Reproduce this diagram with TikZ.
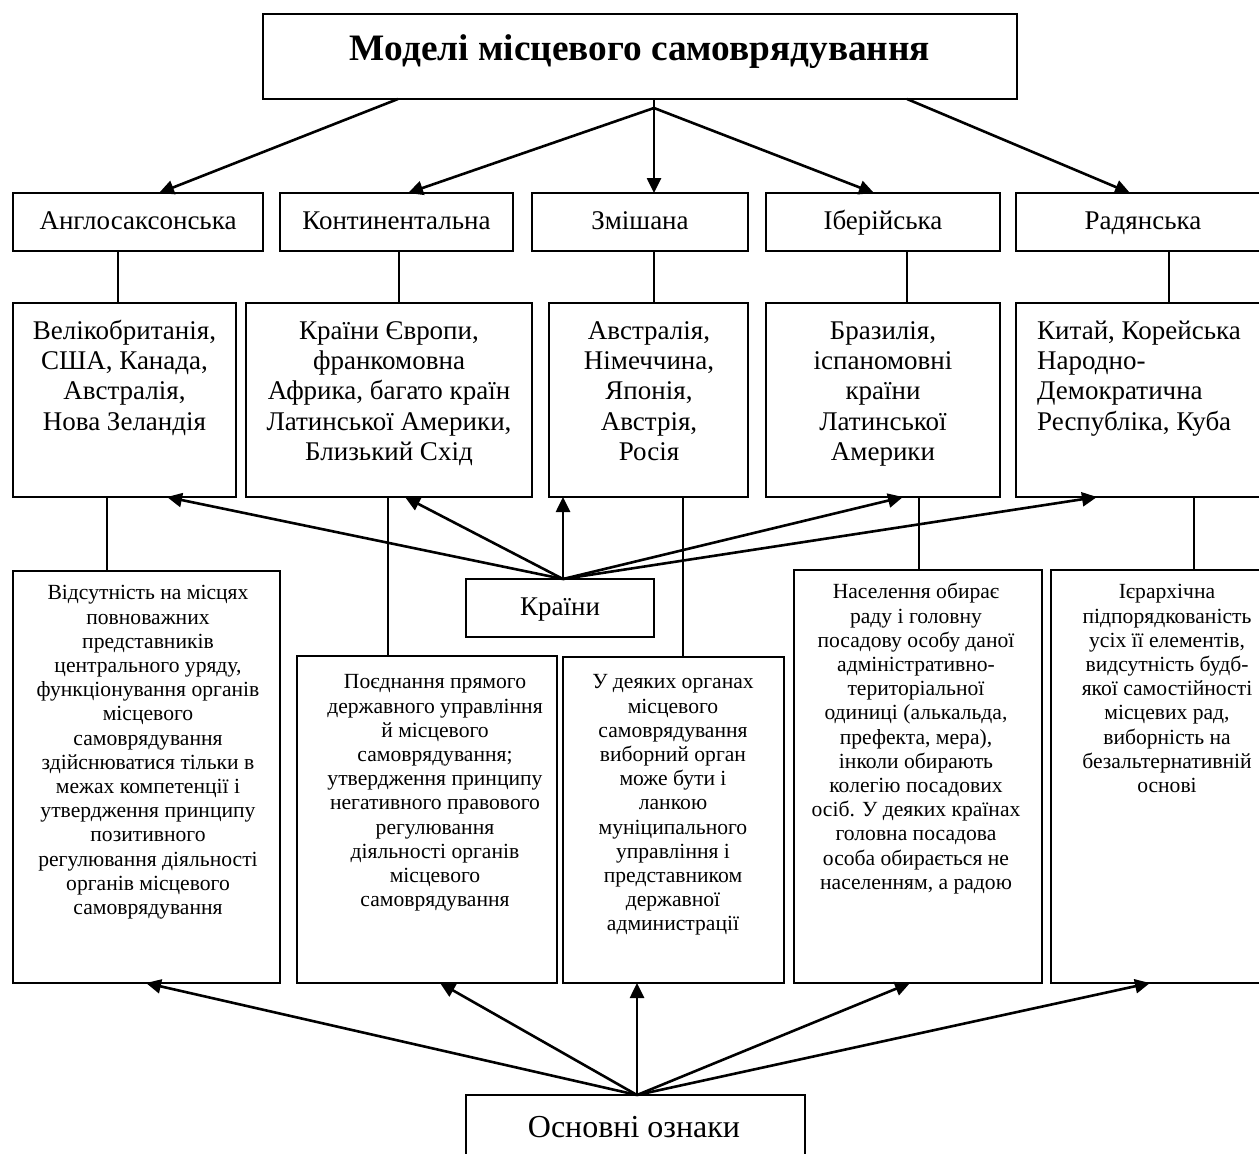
\documentclass[tikz,border=0pt]{standalone}
\usepackage{fontspec}
\setmainfont{Liberation Serif}
\usetikzlibrary{arrows.meta}
\newcommand\mybox[5]{\node[bx, minimum width={#4-#2}, minimum height={#5-#3}] (#1) at ({(#2+#4)/2},{(#3+#5)/2}) {};}
\begin{document}
\begin{tikzpicture}[x=1pt,y=-1pt,
  bx/.style={draw, line width=1.8pt, inner sep=0pt, outer sep=0pt},
  arr/.style={line width=2.6pt, -{Triangle[length=15pt,width=14pt]}},
  thinln/.style={line width=1.6pt},
  bigtxt/.style={font=\fontsize{27}{30.3}\selectfont, inner sep=0pt},
  cty/.style={font=\fontsize{27}{30.3}\selectfont, align=center, inner sep=0pt, anchor=north},
  feat/.style={font=\fontsize{21.6}{24.2}\selectfont, align=center, inner sep=0pt, anchor=north},
]
\useasboundingbox (0,0) rectangle (1259,1154);
\clip (0,0) rectangle (1259,1154);

% boxes
\mybox{title}{263}{14}{1017}{99}
\mybox{anglo}{13}{193}{263}{251}
\mybox{cont}{280}{193}{513}{251}
\mybox{zmish}{532}{193}{748}{251}
\mybox{iber}{766}{193}{1000}{251}
\mybox{rad}{1016}{193}{1280}{251}
\mybox{vel}{13}{303}{236}{497}
\mybox{kre}{246}{303}{532}{497}
\mybox{avs}{549}{303}{748}{497}
\mybox{bra}{766}{303}{1000}{497}
\mybox{chi}{1016}{303}{1280}{497}
\mybox{krainy}{466}{579}{654}{637}
\mybox{fA}{13}{571}{280}{983}
\mybox{fB}{297}{656}{557}{983}
\mybox{fC}{563}{657}{784}{983}
\mybox{fD}{794}{570}{1042}{983}
\mybox{fE}{1051}{570}{1280}{983}
\mybox{osn}{466}{1095}{805}{1180}

% texts
\node[inner sep=0pt, anchor=base, font=\fontsize{37.3}{42}\selectfont\bfseries] (titleT) at (640,60) {Моделі місцевого самоврядування};
\node[bigtxt, anchor=base] (angloT) at (138,229) {Англосаксонська};
\node[bigtxt, anchor=base] (contT) at (396.5,229) {Континентальна};
\node[bigtxt, anchor=base] (zmishT) at (640,229) {Змішана};
\node[bigtxt, anchor=base] (iberT) at (883,229) {Іберійська};
\node[bigtxt, anchor=base] (radT) at (1143,229) {Радянська};

\node[cty] (velT) at (124.5,312) {\rule{0pt}{1em}Велікобританія,\\ США, Канада,\\ Австралія,\\ Нова Зеландія};
\node[cty] (kreT) at (389,312) {\rule{0pt}{1em}Країни Європи,\\ франкомовна\\ Африка, багато країн\\ Латинської Америки,\\ Близький Схід};
\node[cty] (avsT) at (649,312) {\rule{0pt}{1em}Австралія,\\ Німеччина,\\ Японія,\\ Австрія,\\ Росія};
\node[cty] (braT) at (883,312) {\rule{0pt}{1em}Бразилія,\\ іспаномовні\\ країни\\ Латинської\\ Америки};
\node[cty, align=left, anchor=north west] (chiT) at (1037,312) {\rule{0pt}{1em}Китай, Корейська\\ Народно-\\ Демократична\\ Республіка, Куба};

\node[bigtxt, anchor=base] (krainyT) at (560,615) {Країни};
\node[inner sep=0pt, anchor=base, font=\fontsize{32}{36}\selectfont] (osnT) at (634,1137) {Основні ознаки};

\node[feat] (fAT) at (148,578) {\rule{0pt}{1em}Відсутність на місцях\\ повноважних\\ представників\\ центрального уряду,\\ функціонування органів\\ місцевого\\ самоврядування\\ здійснюватися тільки в\\ межах компетенції і\\ утвердження принципу\\ позитивного\\ регулювання діяльності\\ органів місцевого\\ самоврядування};
\node[feat] (fBT) at (435,667) {\rule{0pt}{1em}Поєднання прямого\\ державного управління\\ й місцевого\\ самоврядування;\\ утвердження принципу\\ негативного правового\\ регулювання\\ діяльності органів\\ місцевого\\ самоврядування};
\node[feat] (fCT) at (673,667) {\rule{0pt}{1em}У деяких органах\\ місцевого\\ самоврядування\\ виборний орган\\ може бути і\\ ланкою\\ муніципального\\ управління і\\ представником\\ державної\\ администрації};
\node[feat] (fDT) at (916,577) {\rule{0pt}{1em}Населення обирає\\ раду і головну\\ посадову особу даної\\ адміністративно-\\ територіальної\\ одиниці (алькальда,\\ префекта, мера),\\ інколи обирають\\ колегію посадових\\ осіб. У деяких країнах\\ головна посадова\\ особа обирається не\\ населенням, а радою};
\node[feat] (fET) at (1167,577) {\rule{0pt}{1em}Ієрархічна\\ підпорядкованість\\ усіх її елементів,\\ видсутність будб-\\ якої самостійності\\ місцевих рад,\\ виборність на\\ безальтернативній\\ основі};

% title arrows
\coordinate (br) at (654,108);
\draw[arr] (title.south -| 398,0) -- (anglo.north -| 159,0);
\draw[arr] (title.south -| 654,0) -- (zmish.north -| 654,0);
\draw[arr] (br) -- (cont.north -| 408,0);
\draw[arr] (br) -- (iber.north -| 874,0);
\draw[arr] (title.south -| 907,0) -- (rad.north -| 1130,0);

% category -> countries
\draw[thinln] (anglo.south -| 118,0) -- (vel.north -| 118,0);
\draw[thinln] (cont.south -| 399,0) -- (kre.north -| 399,0);
\draw[thinln] (zmish.south -| 654,0) -- (avs.north -| 654,0);
\draw[thinln] (iber.south -| 907,0) -- (bra.north -| 907,0);
\draw[thinln] (rad.south -| 1169,0) -- (chi.north -| 1169,0);

% countries -> features
\draw[thinln] (vel.south -| 107,0) -- (fA.north -| 107,0);
\draw[thinln] (kre.south -| 388,0) -- (fB.north -| 388,0);
\draw[thinln] (avs.south -| 683,0) -- (fC.north -| 683,0);
\draw[thinln] (bra.south -| 919,0) -- (fD.north -| 919,0);
\draw[thinln] (chi.south -| 1194,0) -- (fE.north -| 1194,0);

% Krainy arrows
\coordinate (kr) at (563,579);
\draw[arr] (kr) -- (vel.south -| 167,0);
\draw[arr] (kr) -- (kre.south -| 405,0);
\draw[arr] (kr) -- (avs.south -| 563,0);
\draw[arr] (kr) -- (bra.south -| 903,0);
\draw[arr] (kr) -- (chi.south -| 1097,0);

% Osnovni oznaky arrows
\coordinate (os) at (637,1095);
\draw[arr] (os) -- (fA.south -| 146,0);
\draw[arr] (os) -- (fB.south -| 440,0);
\draw[arr] (os) -- (fC.south -| 637,0);
\draw[arr] (os) -- (fD.south -| 910,0);
\draw[arr] (os) -- (fE.south -| 1150,0);
\end{tikzpicture}
\end{document}
